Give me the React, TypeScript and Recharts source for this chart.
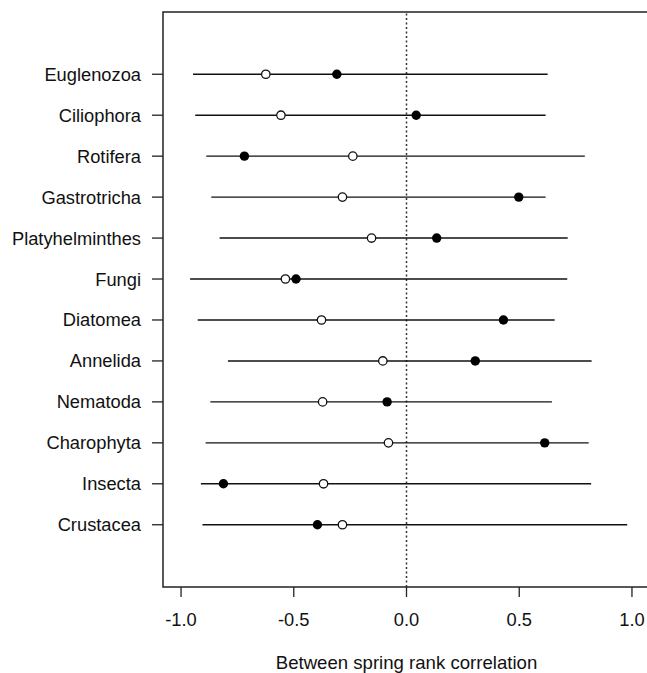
import React from "react";
import {
  ScatterChart,
  Scatter,
  XAxis,
  YAxis,
  ReferenceLine,
  ReferenceArea,
} from "recharts";

// taxa, top to bottom
const taxa = [
  "Euglenozoa",
  "Ciliophora",
  "Rotifera",
  "Gastrotricha",
  "Platyhelminthes",
  "Fungi",
  "Diatomea",
  "Annelida",
  "Nematoda",
  "Charophyta",
  "Insecta",
  "Crustacea",
];

// interval ends
const lower = [-0.947, -0.937, -0.888, -0.866, -0.829, -0.96, -0.926, -0.792, -0.87, -0.891, -0.912, -0.905];
const upper = [0.626, 0.617, 0.791, 0.617, 0.715, 0.713, 0.657, 0.821, 0.645, 0.808, 0.819, 0.979];

// open and filled points
const openVals = [-0.624, -0.557, -0.238, -0.284, -0.155, -0.537, -0.377, -0.105, -0.372, -0.08, -0.368, -0.284];
const filledVals = [-0.309, 0.043, -0.719, 0.498, 0.134, -0.49, 0.43, 0.305, -0.086, 0.613, -0.812, -0.395];

const xTicks = [-1, -0.5, 0, 0.5, 1];

const FONT = "'Liberation Sans', Arial, Helvetica, sans-serif";

const rows = taxa.map((name, i) => ({
  name,
  y: taxa.length - i,
  lo: lower[i],
  hi: upper[i],
}));
const openData = taxa.map((_, i) => ({ x: openVals[i], y: taxa.length - i }));
const filledData = taxa.map((_, i) => ({ x: filledVals[i], y: taxa.length - i }));

const OpenDot = (props: any) => (
  <circle cx={props.cx} cy={props.cy} r={4.2} fill="#fff" stroke="#111" strokeWidth={1.3} />
);
const FilledDot = (props: any) => (
  <circle cx={props.cx} cy={props.cy} r={4.7} fill="#000" stroke="none" />
);

export default function App() {
  return (
    <div
      style={{
        position: "absolute",
        left: 0,
        top: 0,
        width: 647,
        height: 673,
        overflow: "hidden",
        background: "#fff",
      }}
    >
      <ScatterChart
        width={660}
        height={673}
        margin={{ top: 12, right: 10, bottom: 0, left: 0 }}
      >
        <XAxis
          type="number"
          dataKey="x"
          domain={[-1.08, 1.08]}
          ticks={xTicks}
          allowDataOverflow
          tickFormatter={(v: number) => v.toFixed(1)}
          height={86}
          tickSize={10}
          tickMargin={16}
          axisLine={false}
          tickLine={{ stroke: "#222", strokeWidth: 1.3 }}
          tick={{ fill: "#111", fontSize: 18.3, fontFamily: FONT }}
          label={{
            value: "Between spring rank correlation",
            position: "insideBottom",
            offset: 4,
            fill: "#111",
            fontSize: 18.6,
            fontFamily: FONT,
          }}
        />
        <YAxis
          type="number"
          dataKey="y"
          domain={[-0.52, 13.52]}
          ticks={rows.map((r) => r.y)}
          allowDataOverflow
          tickFormatter={(v: number) => taxa[taxa.length - v]}
          width={163}
          tickSize={11}
          tickMargin={11}
          axisLine={false}
          tickLine={{ stroke: "#222", strokeWidth: 1.3 }}
          tick={{ fill: "#111", fontSize: 18.3, fontFamily: FONT }}
        />
        <ReferenceArea
          x1={-1.08}
          x2={1.08}
          y1={-0.52}
          y2={13.52}
          fill="none"
          fillOpacity={0}
          stroke="#222"
          strokeWidth={1.5}
          ifOverflow="visible"
        />
        <ReferenceLine x={0} stroke="#333" strokeWidth={1.5} strokeDasharray="2 2.5" />
        {rows.map((r) => (
          <ReferenceLine
            key={r.name}
            segment={[
              { x: r.lo, y: r.y },
              { x: r.hi, y: r.y },
            ]}
            stroke="#111"
            strokeWidth={1.4}
            ifOverflow="visible"
          />
        ))}
        <Scatter data={openData} shape={OpenDot} isAnimationActive={false} />
        <Scatter data={filledData} shape={FilledDot} isAnimationActive={false} />
      </ScatterChart>
    </div>
  );
}
